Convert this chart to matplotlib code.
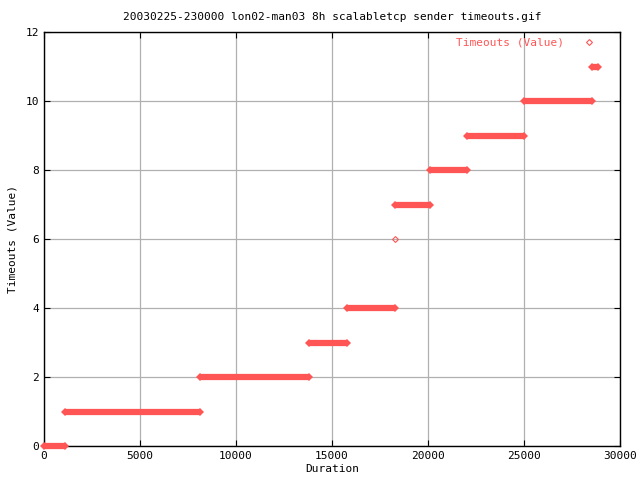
import numpy as np
import matplotlib
matplotlib.use("Agg")
import matplotlib.pyplot as plt

# step levels: start, end, value
seg_start = [0, 1100, 8150, 13780, 15800, 18300, 20120, 22050, 24980, 28520]
seg_end = [1100, 8150, 13780, 15800, 18300, 20120, 22050, 24980, 28520, 28850]
seg_value = [0, 1, 2, 3, 4, 7, 8, 9, 10, 11]
# lone point
single_x = [18280]
single_y = [6]

red = '#ff5555'
plt.rcParams['font.family'] = 'DejaVu Sans Mono'

fig = plt.figure(figsize=(6.4, 4.8), dpi=100)
ax = fig.add_axes([0.06875, 0.0708, 0.9, 0.8625])

for s, e, v in zip(seg_start, seg_end, seg_value):
    ax.plot([s, e], [v, v], color=red, lw=4.5, solid_capstyle='butt',
            marker='D', markersize=4.5, markeredgewidth=0, zorder=3,
            clip_on=False)
ax.plot(single_x, single_y, 'D', color=red, markerfacecolor='none',
        markersize=3, markeredgewidth=0.8, zorder=3)

ax.set_xlim(0, 30000)
ax.set_ylim(0, 12)
ax.set_xticks(np.arange(0, 30001, 5000))
ax.set_yticks(np.arange(0, 13, 2))
ax.grid(True, color='#b0b0b0', lw=0.9)
ax.set_axisbelow(True)
ax.tick_params(direction='in', length=4, labelsize=8, top=True, right=True)
for sp in ax.spines.values():
    sp.set_linewidth(1)

ax.set_xlabel('Duration', fontsize=8, labelpad=2)
ax.set_ylabel('Timeouts (Value)', fontsize=8, labelpad=6)
ax.set_title('20030225-230000 lon02-man03 8h scalabletcp sender timeouts.gif',
             fontsize=8, pad=9)

# legend entry
ax.text(0.903, 0.975, 'Timeouts (Value)', color=red, fontsize=8,
        transform=ax.transAxes, ha='right', va='center')
ax.plot([0.946], [0.975], 'D', color=red, markerfacecolor='none',
        markersize=3, markeredgewidth=0.8, transform=ax.transAxes)

fig.savefig('out.png', dpi=100)
